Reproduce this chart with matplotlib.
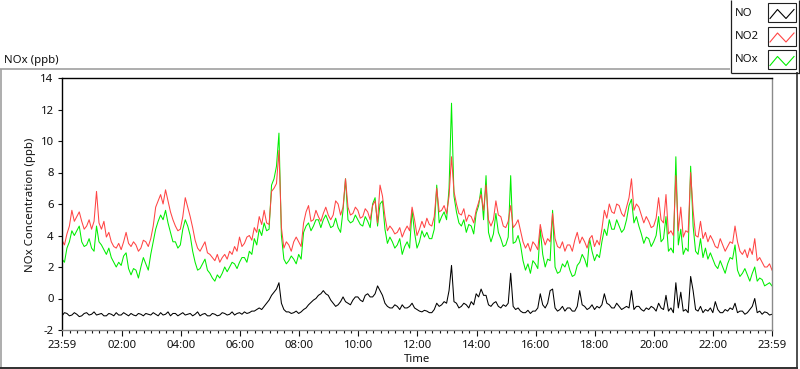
import numpy as np
import matplotlib
matplotlib.use('Agg')
import matplotlib.pyplot as plt
from matplotlib.patches import Rectangle

plt.rcParams['font.family'] = ['Noto Sans', 'DejaVu Sans']

# ---------------- data (5-minute samples) ----------------
step_minutes = 5

no2 = [3.7, 3.4, 4.1, 4.6, 5.6, 4.9, 5.2, 5.5, 4.9, 4.4, 4.6, 5.0, 4.4, 4.9, 6.8, 4.8, 4.4, 4.9, 3.9, 4.2,
       3.6, 3.3, 3.2, 3.5, 3.1, 3.6, 4.2, 3.5, 3.3, 3.6, 3.4, 3.0, 3.2, 3.7, 3.6, 3.3, 3.8, 4.6, 5.8, 6.2,
       6.6, 6.0, 6.9, 6.2, 5.5, 5.0, 4.6, 4.3, 4.4, 5.2, 6.4, 5.8, 5.2, 4.5, 3.7, 3.2, 3.0, 3.3, 3.6, 2.9,
       2.8, 2.6, 2.4, 2.8, 2.3, 2.6, 2.8, 2.5, 3.0, 2.8, 3.3, 3.0, 3.9, 3.3, 3.5, 3.9, 4.0, 3.7, 4.5, 4.2,
       5.2, 4.7, 5.6, 4.8, 4.7, 6.8, 7.0, 7.3, 9.4, 4.5, 3.2, 3.6, 3.4, 3.0, 3.6, 3.9, 3.6, 3.3, 4.8, 5.5,
       5.9, 4.9, 5.0, 5.6, 5.2, 4.9, 5.4, 5.8, 5.3, 5.0, 5.3, 6.2, 6.0, 5.3, 5.8, 7.6, 5.8, 5.3, 5.4, 5.8,
       5.6, 5.1, 5.2, 5.7, 5.5, 5.0, 5.9, 6.2, 4.8, 7.2, 6.5, 5.2, 4.3, 4.6, 4.4, 4.1, 4.2, 4.5, 3.9, 4.3,
       4.6, 4.3, 5.8, 5.0, 4.0, 4.4, 4.9, 4.5, 5.1, 4.7, 4.6, 5.2, 7.0, 5.5, 5.6, 5.9, 5.4, 6.5, 9.0, 6.8,
       6.0, 5.4, 5.3, 5.7, 4.9, 5.3, 5.2, 4.8, 5.6, 6.1, 6.6, 5.6, 7.2, 5.0, 4.6, 5.0, 6.2, 5.3, 5.2, 4.6,
       4.5, 4.9, 5.9, 4.5, 4.7, 5.0, 4.3, 3.6, 3.2, 3.5, 3.0, 3.6, 3.4, 3.1, 4.7, 3.9, 3.4, 3.8, 3.6, 5.4,
       3.8, 3.3, 3.2, 3.6, 3.0, 3.4, 3.4, 3.0, 3.7, 4.2, 3.5, 3.9, 3.6, 3.2, 3.8, 4.0, 3.3, 3.7, 3.4, 4.4,
       5.6, 5.1, 6.0, 5.5, 5.4, 6.0, 5.9, 5.4, 5.2, 5.8, 6.4, 7.6, 5.6, 6.0, 5.8, 5.3, 4.8, 5.2, 4.9, 4.5,
       4.6, 5.1, 6.4, 5.0, 4.8, 6.6, 4.1, 4.3, 4.0, 7.8, 4.3, 5.8, 3.9, 4.3, 4.2, 8.0, 5.6, 4.0, 3.9, 4.9,
       3.8, 4.2, 3.6, 4.0, 3.7, 3.3, 3.2, 3.8, 3.4, 3.0, 3.3, 3.6, 3.5, 4.6, 3.6, 3.0, 2.8, 3.1, 2.6, 3.2,
       2.8, 3.8, 2.4, 2.6, 2.3, 2.0, 2.0, 2.2, 1.8]

nox = [2.5, 2.3, 3.2, 3.6, 4.3, 4.0, 4.3, 4.6, 3.6, 3.3, 3.4, 3.8, 3.2, 3.0, 4.6, 3.6, 3.4, 3.1, 2.8, 3.2,
       2.6, 2.3, 2.0, 2.3, 2.1, 2.7, 2.9, 1.9, 1.5, 1.9, 1.8, 1.3, 2.0, 2.6, 2.2, 1.8, 2.8, 3.6, 4.4, 4.9,
       5.3, 5.0, 5.6, 4.8, 4.2, 3.6, 3.6, 3.2, 3.4, 4.4, 5.0, 4.6, 4.0, 3.0, 2.3, 1.8, 1.9, 2.2, 2.5, 1.8,
       1.6, 1.3, 1.1, 1.5, 1.3, 1.6, 2.0, 1.7, 2.0, 2.3, 2.2, 1.9, 2.3, 2.6, 2.6, 2.3, 3.0, 2.8, 3.8, 3.4,
       4.4, 4.0, 4.8, 4.3, 4.4, 7.2, 7.6, 8.4, 10.5, 4.0, 2.5, 2.2, 2.4, 2.7, 2.5, 2.2, 2.8, 2.5, 4.2, 4.6,
       4.8, 4.3, 4.6, 5.0, 5.0, 4.5, 5.0, 5.3, 4.9, 4.5, 4.6, 5.1, 4.5, 4.2, 5.6, 7.6, 5.0, 4.8, 4.9, 5.3,
       5.0, 4.7, 4.6, 5.2, 4.9, 4.5, 6.0, 6.4, 4.6, 6.0, 6.2, 4.4, 3.5, 3.9, 3.6, 3.2, 3.4, 3.8, 2.8, 3.3,
       3.6, 3.2, 5.6, 4.2, 3.2, 3.6, 4.3, 3.9, 4.2, 3.8, 3.8, 4.4, 7.2, 4.8, 5.2, 5.5, 5.0, 7.0, 12.4, 6.5,
       5.5, 4.8, 4.6, 5.0, 4.2, 4.7, 4.6, 4.1, 5.4, 5.9, 7.0, 5.0, 7.8, 4.2, 3.6, 4.1, 5.4, 4.2, 3.8, 3.3,
       3.4, 3.9, 7.8, 3.5, 3.6, 4.0, 3.4, 2.4, 1.8, 2.2, 1.6, 2.4, 2.2, 1.9, 4.4, 2.8, 2.0, 2.5, 2.4, 5.6,
       2.0, 1.6, 1.7, 2.2, 2.0, 2.4, 1.8, 1.4, 1.5, 2.1, 2.3, 2.8, 2.5, 2.0, 3.8, 3.0, 2.4, 2.8, 2.6, 3.6,
       4.4, 4.0, 5.0, 4.4, 4.4, 5.0, 4.6, 4.2, 4.4, 5.0, 5.9, 6.3, 4.8, 5.2, 4.6, 4.1, 3.5, 3.9, 3.8, 3.3,
       3.6, 4.0, 5.2, 3.6, 3.8, 5.2, 3.0, 3.2, 2.9, 9.0, 3.4, 4.4, 2.8, 3.2, 3.0, 8.4, 4.6, 3.0, 2.8, 3.8,
       2.6, 3.2, 2.5, 2.9, 2.5, 2.1, 1.9, 2.4, 2.0, 1.6, 2.2, 2.6, 2.5, 3.4, 1.8, 1.4, 1.6, 1.9, 1.5, 1.1,
       1.6, 2.0, 1.1, 1.3, 1.2, 0.8, 0.9, 1.0, 0.8]

no = [-1.1, -0.9, -0.95, -1.1, -1.05, -0.9, -1.0, -1.15, -1.1, -0.95, -0.9, -1.05, -1.0, -0.85, -1.05, -1.0,
      -0.95, -1.1, -1.1, -0.95, -1.0, -1.1, -0.9, -1.05, -1.05, -0.9, -1.0, -1.1, -0.95, -1.05, -1.1, -0.95,
      -1.0, -1.1, -0.95, -1.0, -1.05, -0.9, -1.0, -1.1, -0.9, -1.05, -1.0, -0.85, -1.1, -0.95, -0.95, -1.1,
      -1.0, -0.9, -1.05, -1.0, -0.95, -1.1, -1.0, -0.85, -1.1, -1.0, -0.95, -1.1, -1.1, -0.95, -1.0, -1.1,
      -1.05, -0.9, -0.95, -1.05, -1.0, -0.85, -1.05, -0.95, -0.9, -1.0, -0.85, -0.95, -0.9, -0.8, -0.8, -0.7,
      -0.6, -0.7, -0.5, -0.3, -0.1, 0.2, 0.4, 0.6, 1.0, -0.3, -0.7, -0.85, -0.85, -0.95, -0.9, -0.8,
      -0.95, -0.85, -0.7, -0.6, -0.4, -0.25, -0.1, 0.0, 0.2, 0.3, 0.5, 0.3, 0.2, -0.1, -0.3, -0.5,
      -0.4, -0.2, 0.1, -0.2, -0.3, -0.4, -0.1, 0.1, 0.1, -0.1, -0.2, 0.2, 0.3, 0.1, 0.1, 0.3,
      0.8, 0.5, 0.2, -0.3, -0.5, -0.6, -0.6, -0.4, -0.5, -0.7, -0.4, -0.6, -0.6, -0.5, -0.3, -0.6,
      -0.7, -0.8, -0.85, -0.75, -0.8, -0.9, -0.9, -0.7, -0.3, -0.5, -0.4, -0.2, -0.3, 0.5, 2.1, -0.2,
      -0.3, -0.6, -0.5, -0.3, -0.4, -0.6, -0.2, -0.4, 0.3, 0.1, 0.6, 0.2, 0.2, -0.4, -0.5, -0.3,
      -0.2, -0.5, -0.6, -0.4, -0.5, -0.3, 1.6, -0.5, -0.7, -0.6, -0.8, -0.9, -0.9, -0.75, -0.95, -0.8,
      -0.8, -0.6, 0.3, -0.4, -0.6, -0.3, 0.5, 0.6, -0.6, -0.8, -0.7, -0.5, -0.8, -0.6, -0.6, -0.8,
      -0.8, -0.5, 0.5, -0.4, -0.5, -0.7, -0.6, -0.4, -0.7, -0.5, -0.6, -0.4, 0.3, -0.3, -0.4, -0.6,
      -0.6, -0.3, -0.5, -0.7, -0.6, -0.5, -0.6, 0.5, -0.7, -0.5, -0.5, -0.7, -0.8, -0.6, -0.7, -0.5,
      -0.6, -0.8, -0.3, -0.6, -0.7, 0.2, -0.8, -0.6, -0.9, 1.0, -0.6, 0.4, -0.8, -0.7, -0.9, 1.4,
      0.5, -0.7, -0.8, -0.5, -0.9, -0.7, -0.8, -0.6, -0.9, -0.2, -0.7, -0.9, -0.9, -0.7, -0.8, -0.6,
      -0.7, -0.3, -0.9, -0.8, -0.8, -1.0, -0.9, -0.7, -0.5, 0.0, -0.9, -0.8, -1.0, -0.85, -0.9, -1.05,
      -1.0]

series_names = ['NO', 'NO2', 'NOx']
series_colors = ['#000000', '#ff4444', '#00ee00']

x_tick_labels = ['23:59', '02:00', '04:00', '06:00', '08:00', '10:00', '12:00',
                 '14:00', '16:00', '18:00', '20:00', '22:00', '23:59']
y_ticks = [-2, 0, 2, 4, 6, 8, 10, 12, 14]

# ---------------- figure ----------------
W, H = 800, 369
fig = plt.figure(figsize=(W / 100, H / 100), dpi=100)
fig.patch.set_facecolor('white')

ov = fig.add_axes([0, 0, 1, 1], zorder=0)
ov.set_xlim(0, W)
ov.set_ylim(H, 0)
ov.axis('off')

# outer frame (LabVIEW-like)
ov.plot([0, 730], [69, 69], color='#a0a0a0', lw=1.2, solid_capstyle='butt')
ov.plot([0.6, 0.6], [69, 368], color='#a0a0a0', lw=1.2, solid_capstyle='butt')
ov.plot([0, 798], [367.6, 367.6], color='#303030', lw=1.4, solid_capstyle='butt')
ov.plot([797.4, 797.4], [72, 368], color='#303030', lw=1.2, solid_capstyle='butt')

# legend box
ov.plot([730.5, 730.5], [0, 72.5], color='#202020', lw=0.9, solid_capstyle='butt')
ov.plot([730.5, 800], [72.5, 72.5], color='#202020', lw=0.9, solid_capstyle='butt')
ov.plot([799.4, 799.4], [0, 72.5], color='#202020', lw=0.9, solid_capstyle='butt')
sw_tops = [3, 26.5, 50]
for name, col, top in zip(series_names, series_colors, sw_tops):
    ov.add_patch(Rectangle((768, top), 28, 19, fill=False, edgecolor='#202020', lw=0.8))
    ov.plot([770, 777.5, 786, 794], [top + 15.5, top + 6.5, top + 15.5, top + 6.5],
            color=col, lw=0.8)
    ov.text(735, top + 10, name, ha='left', va='center', fontsize=8.2, color='#101010')

fig.text(4 / W, 1 - 60 / H, 'NOx (ppb)', ha='left', va='center', fontsize=8.2, color='#101010')
fig.text(31 / W, 1 - 205 / H, 'NOx Concentration (ppb)', rotation=90,
         ha='center', va='center', fontsize=8.2, color='#101010')
fig.text(417 / W, 1 - 360 / H, 'Time', ha='center', va='center', fontsize=8.2, color='#101010')

# ---------------- plot area ----------------
ax = fig.add_axes([62 / W, 1 - 330 / H, 710 / W, 252 / H], zorder=1)
ax.set_facecolor('white')
hours = np.arange(len(no2)) * step_minutes / 60.0

ax.plot(hours, nox, color=series_colors[2], lw=0.75)
ax.plot(hours, no2, color=series_colors[1], lw=0.75)
ax.plot(hours, no, color=series_colors[0], lw=0.75)

ax.set_xlim(0, 24)
ax.set_ylim(-2, 14)

major_pos = [0.0] + [2 * k + 1 / 60 for k in range(1, 12)] + [24.0]
ax.set_xticks(major_pos)
ax.set_xticklabels(x_tick_labels)
minor_pos = [p for p in np.arange(2 + 1 / 60 - 8 * 0.25, 24.01, 0.25)
             if p > 0.1 and p < 23.95 and min(abs(p - m) for m in major_pos) > 0.05]
ax.set_xticks(minor_pos, minor=True)
ax.set_yticks(y_ticks)
ax.set_yticklabels([str(v) for v in y_ticks])

ax.tick_params(axis='x', which='major', direction='out', length=4, width=0.8, pad=3,
               labelsize=8.2, colors='#101010')
ax.tick_params(axis='x', which='minor', direction='out', length=2.4, width=0.8, colors='#101010')
ax.tick_params(axis='y', direction='out', length=3, width=0.8, pad=3,
               labelsize=8.2, colors='#101010')

for s in ['top', 'left']:
    ax.spines[s].set_color('#000000')
    ax.spines[s].set_linewidth(1.0)
for s in ['bottom', 'right']:
    ax.spines[s].set_color('#8a8a8a')
    ax.spines[s].set_linewidth(1.0)

fig.savefig('out.png', dpi=100, facecolor='white')
